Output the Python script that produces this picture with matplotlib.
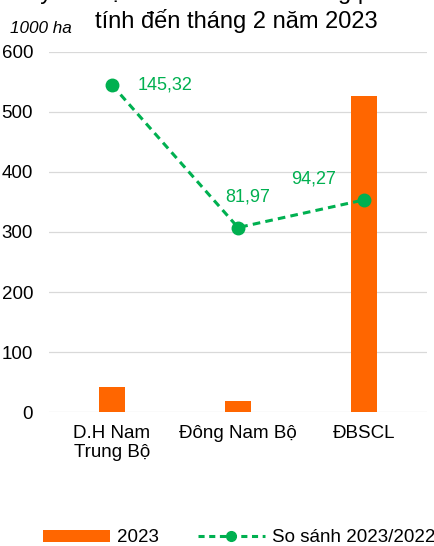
"""Rice planting area chart, southern regions, up to February 2023."""
import matplotlib.pyplot as plt
from matplotlib.lines import Line2D
from matplotlib.patches import Patch

regions = ["D.H Nam\nTrung Bộ", "Đông Nam Bộ", "ĐBSCL"]
area_2023 = [42, 18, 527]
compare_pct = [145.32, 81.97, 94.27]
compare_labels = ["145,32", "81,97", "94,27"]
y_ticks = [0, 100, 200, 300, 400, 500, 600]

bar_color = "#FF6600"
line_color = "#00B050"

plt.rcParams["font.family"] = ["Liberation Sans", "DejaVu Sans"]

fig = plt.figure(figsize=(4.34, 5.46), dpi=100)
ax = fig.add_axes([0.113, 0.2454, 0.871, 0.6594])

x = list(range(len(regions)))
ax.bar(x, area_2023, width=0.2, color=bar_color, zorder=3)
ax.set_xlim(-0.5, len(regions) - 0.5)
ax.set_ylim(0, 600)
ax.set_yticks(y_ticks)
ax.set_xticks(x)
ax.set_xticklabels(regions, fontsize=13.5, linespacing=1.2)
ax.tick_params(axis="y", length=0, pad=11.5, labelsize=13.5)
ax.tick_params(axis="x", length=0, pad=9)
ax.grid(axis="y", color="#D9D9D9", linewidth=0.9, zorder=0)
for s in ax.spines.values():
    s.set_visible(False)

# comparison line on a hidden secondary axis
ax2 = ax.twinx()
ax2.set_ylim(0, 160)
ax2.plot(
    x,
    compare_pct,
    color=line_color,
    linewidth=2.2,
    linestyle=(0, (2.5, 1.7)),
    marker="o",
    markersize=9,
    zorder=4,
)
ax2.set_yticks([])
for s in ax2.spines.values():
    s.set_visible(False)

offsets = [((18.7, 0), "left"), ((7.2, 22.3), "center"), ((-36, 15.1), "center")]
for i, lab in enumerate(compare_labels):
    ax2.annotate(
        lab,
        (x[i], compare_pct[i]),
        textcoords="offset points",
        xytext=offsets[i][0],
        ha=offsets[i][1],
        va="center",
        fontsize=13,
        color=line_color,
    )

# title (first line is clipped by the top edge, as in the source)
fig.text(0.545, 1 + 1.5 / 546, "Lũy kế diện tích lúa ĐX đã trồng phía Nam",
         ha="center", va="baseline", fontsize=17)
fig.text(0.545, 1 - 28 / 546, "tính đến tháng 2 năm 2023",
         ha="center", va="baseline", fontsize=17)
fig.text(10 / 434, 1 - 33 / 546, "1000 ha", ha="left", va="baseline",
         fontsize=12.3, style="italic")

handles = [
    Patch(facecolor=bar_color, edgecolor="none"),
    Line2D([], [], color=line_color, linewidth=2.2, linestyle=(0, (2, 1.5)),
           marker="o", markersize=7),
]
fig.legend(
    handles,
    ["2023", "So sánh 2023/2022"],
    loc="center left",
    bbox_to_anchor=(43 / 434, 1 - 538 / 546),
    ncol=2,
    frameon=False,
    fontsize=13.5,
    borderpad=0,
    borderaxespad=0,
    handlelength=3.55,
    handleheight=0.55,
    handletextpad=0.42,
    columnspacing=2.06,
)

plt.savefig("out.png", dpi=100)
